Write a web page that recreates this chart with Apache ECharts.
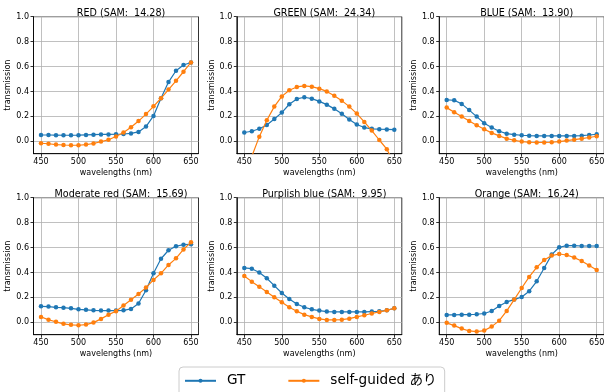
<!DOCTYPE html>
<html>
<head>
<meta charset="utf-8">
<script src="https://cdn.jsdelivr.net/npm/echarts@6/dist/echarts.min.js"></script>
<style>
  html, body { margin: 0; padding: 0; background: #fff; }
  #chart { width: 604px; height: 392px; }
</style>
</head>
<body>
<div id="chart"></div>
<script>
  // wavelengths (nm)
  var wavelengths = [450, 460, 470, 480, 490, 500, 510, 520, 530, 540, 550,
                     560, 570, 580, 590, 600, 610, 620, 630, 640, 650];
  var xTicks = [450, 500, 550, 600, 650];
  var yTicks = [0, 0.2, 0.4, 0.6, 0.8, 1.0];

  var titles = ['RED (SAM:  14.28)', 'GREEN (SAM:  24.34)', 'BLUE (SAM:  13.90)',
                'Moderate red (SAM:  15.69)', 'Purplish blue (SAM:  9.95)', 'Orange (SAM:  16.24)'];

  // GT
  var redGT = [0.05, 0.05, 0.049, 0.048, 0.048, 0.049, 0.051, 0.053, 0.055, 0.055, 0.056,
               0.058, 0.063, 0.075, 0.118, 0.203, 0.345, 0.475, 0.566, 0.612, 0.632];
  var greenGT = [0.07, 0.08, 0.10, 0.13, 0.178, 0.23, 0.297, 0.34, 0.353, 0.342, 0.32,
                 0.294, 0.26, 0.22, 0.174, 0.134, 0.11, 0.10, 0.097, 0.095, 0.093];
  var blueGT = [0.332, 0.329, 0.30, 0.25, 0.198, 0.144, 0.11, 0.08, 0.061, 0.053, 0.048,
                0.045, 0.043, 0.043, 0.043, 0.043, 0.043, 0.043, 0.045, 0.05, 0.056];
  var modRedGT = [0.128, 0.126, 0.12, 0.117, 0.112, 0.104, 0.10, 0.096, 0.094, 0.094, 0.094,
                  0.096, 0.107, 0.15, 0.257, 0.393, 0.51, 0.578, 0.61, 0.623, 0.626];
  var purpBlueGT = [0.436, 0.43, 0.40, 0.353, 0.294, 0.235, 0.187, 0.147, 0.12, 0.104, 0.094,
                    0.086, 0.083, 0.083, 0.083, 0.083, 0.083, 0.086, 0.088, 0.096, 0.112];
  var orangeGT = [0.059, 0.059, 0.061, 0.061, 0.064, 0.07, 0.09, 0.131, 0.163, 0.182, 0.203,
                  0.249, 0.329, 0.436, 0.543, 0.602, 0.615, 0.615, 0.612, 0.612, 0.612];

  // self-guided あり
  var redSG = [-0.016, -0.02, -0.027, -0.03, -0.032, -0.032, -0.027, -0.018, -0.003, 0.012, 0.038,
               0.07, 0.112, 0.162, 0.218, 0.28, 0.345, 0.415, 0.485, 0.558, 0.633];
  var greenSG = [-0.30, -0.122, 0.037, 0.168, 0.278, 0.36, 0.41, 0.436, 0.444, 0.438, 0.422,
                 0.40, 0.366, 0.326, 0.278, 0.222, 0.155, 0.086, 0.01, -0.064, -0.178];
  var blueSG = [0.27, 0.233, 0.198, 0.163, 0.128, 0.096, 0.067, 0.043, 0.021, 0.008, -0.003,
                -0.008, -0.01, -0.01, -0.008, -0.003, 0.005, 0.013, 0.021, 0.03, 0.04];
  var modRedSG = [0.043, 0.02, 0.003, -0.013, -0.021, -0.024, -0.019, -0.003, 0.027, 0.061, 0.088,
                  0.134, 0.18, 0.227, 0.278, 0.34, 0.393, 0.46, 0.513, 0.585, 0.642];
  var purpBlueSG = [0.372, 0.326, 0.286, 0.243, 0.20, 0.16, 0.12, 0.088, 0.061, 0.043, 0.027,
                    0.019, 0.019, 0.021, 0.029, 0.043, 0.056, 0.07, 0.083, 0.096, 0.112];
  var orangeSG = [-0.005, -0.027, -0.051, -0.07, -0.075, -0.067, -0.035, 0.013, 0.091, 0.182, 0.275,
                  0.364, 0.441, 0.50, 0.535, 0.548, 0.54, 0.519, 0.492, 0.455, 0.42];

  var gtList = [redGT, greenGT, blueGT, modRedGT, purpBlueGT, orangeGT];
  var sgList = [redSG, greenSG, blueSG, modRedSG, purpBlueSG, orangeSG];

  var FONT = "'DejaVu Sans', 'Noto Sans CJK JP', sans-serif";
  var colLeft = [33.5, 236.8, 439.2];
  var rowTop = [16.7, 197.7];
  var gridW = 165, gridH = 137;

  function pairs(arr) {
    return wavelengths.map(function (w, i) { return [w, arr[i]]; });
  }

  var grids = [], xAxes = [], yAxes = [], series = [], titleList = [];
  for (var i = 0; i < 6; i++) {
    var c = i % 3, r = Math.floor(i / 3);
    grids.push({
      left: colLeft[c], top: rowTop[r], width: gridW, height: gridH,
      show: true, borderColor: '#000', borderWidth: 0.8, backgroundColor: '#fff',
      outerBoundsMode: 'none', containLabel: false
    });
    titleList.push({
      text: titles[i],
      left: colLeft[c] + gridW / 2, top: rowTop[r] - 12.5,
      textAlign: 'center',
      textStyle: {fontFamily: FONT, fontSize: 9.6, fontWeight: 'normal', color: '#000'}
    });
    xAxes.push({
      type: 'value', gridIndex: i, min: 440, max: 660,
      name: 'wavelengths (nm)', nameLocation: 'middle', nameGap: 15,
      nameTextStyle: {fontFamily: FONT, fontSize: 8, color: '#000'},
      axisLine: {show: true, onZero: false, lineStyle: {color: '#000', width: 0.8}},
      axisTick: {show: true, length: 3, customValues: xTicks, lineStyle: {color: '#000', width: 0.8}},
      axisLabel: {customValues: xTicks, margin: 4.5, fontFamily: FONT, fontSize: 8, color: '#000'},
      splitLine: {show: true, lineStyle: {color: '#b0b0b0', width: 0.8}}
    });
    yAxes.push({
      type: 'value', gridIndex: i, min: -0.1, max: 1.0,
      name: 'transmission', nameLocation: 'middle', nameGap: 18,
      nameTextStyle: {fontFamily: FONT, fontSize: 8, color: '#000'},
      axisLine: {show: true, onZero: false, lineStyle: {color: '#000', width: 0.8}},
      axisTick: {show: true, length: 3, customValues: yTicks, lineStyle: {color: '#000', width: 0.8}},
      axisLabel: {
        customValues: yTicks, margin: 4.5, fontFamily: FONT, fontSize: 8, color: '#000',
        formatter: function (v) { return v.toFixed(1); }
      },
      splitLine: {show: true, lineStyle: {color: '#b0b0b0', width: 0.8}}
    });
    series.push({
      name: 'GT', type: 'line', xAxisIndex: i, yAxisIndex: i,
      data: pairs(gtList[i]), symbol: 'circle', symbolSize: 4.5, showSymbol: true,
      color: '#1f77b4', lineStyle: {width: 1.2}, clip: true, z: 2
    });
    series.push({
      name: 'self-guided あり', type: 'line', xAxisIndex: i, yAxisIndex: i,
      data: pairs(sgList[i]), symbol: 'circle', symbolSize: 4.5, showSymbol: true,
      color: '#ff7f0e', lineStyle: {width: 1.2}, clip: true, z: 3
    });
  }

  var myChart = echarts.init(document.getElementById('chart'), null, {renderer: 'canvas'});
  myChart.setOption({
    animation: false,
    backgroundColor: '#fff',
    title: titleList,
    grid: grids,
    xAxis: xAxes,
    yAxis: yAxes,
    legend: {
      data: ['GT', 'self-guided あり'],
      left: 179, top: 367,
      orient: 'horizontal',
      itemWidth: 31, itemHeight: 5, itemGap: 42,
      padding: [7, 8, 12, 5],
      borderColor: '#ccc', borderWidth: 1, borderRadius: 4,
      backgroundColor: 'rgba(255,255,255,0.8)',
      textStyle: {fontFamily: FONT, fontSize: 13.6, color: '#000', padding: [0, 0, 0, 6]}
    },
    series: series
  });
</script>
</body>
</html>
